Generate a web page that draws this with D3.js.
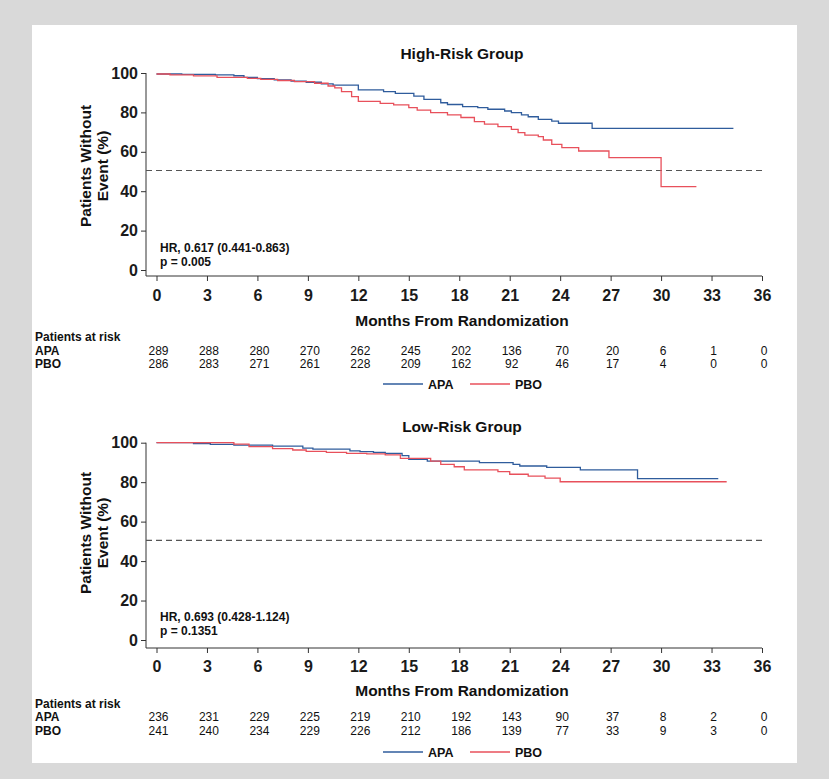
<!DOCTYPE html>
<html>
<head>
<meta charset="utf-8">
<script src="https://cdn.jsdelivr.net/npm/d3@7"></script>
<style>
  body { margin: 0; background: #d9d9d9; }
  svg { display: block; font-family: "Liberation Sans", Arial, sans-serif; }
</style>
</head>
<body>
<div class="chart"></div>
<script>
var months = [0, 3, 6, 9, 12, 15, 18, 21, 24, 27, 30, 33, 36];
var yTicks = [0, 20, 40, 60, 80, 100];
var groups = ["APA", "PBO"];
var colors = ["#2f5c9c", "#e8505b"];

// High-risk group, Kaplan-Meier steps (month, % without event)
var highApaTimes = [0, 1.5, 3.5, 4.6, 5.2, 6.0, 7.0, 8.0, 8.9, 9.8, 10.5, 12.0, 13.5, 14.2, 15.3, 15.9, 16.9, 17.3, 18.2, 19.1, 19.7, 20.7, 21.1, 21.7, 22.1, 22.7, 23.5, 23.9, 25.9, 34.3];
var highApaValues = [99.5, 99.3, 99.0, 98.6, 97.8, 97.1, 96.5, 95.9, 95.3, 94.5, 93.8, 91.4, 90.5, 89.7, 88.3, 86.6, 84.9, 84.0, 82.9, 82.4, 81.6, 80.7, 79.9, 78.7, 77.8, 76.5, 75.6, 74.5, 71.9, 71.9];
var highPboTimes = [0, 0.8, 2.2, 3.6, 5.4, 6.2, 7.2, 8.2, 9.4, 10.2, 10.6, 11.0, 11.6, 12.0, 13.3, 14.1, 15.0, 15.5, 16.3, 17.3, 18.1, 18.9, 19.5, 20.3, 21.1, 21.5, 21.9, 22.7, 23.0, 23.5, 24.1, 25.1, 26.9, 30.0, 32.1];
var highPboValues = [99.5, 99.0, 98.5, 97.8, 97.3, 96.8, 96.2, 95.6, 94.8, 93.4, 92.5, 90.5, 88.0, 85.6, 84.6, 83.8, 82.4, 81.2, 79.9, 78.7, 77.4, 75.3, 74.0, 72.8, 71.4, 69.7, 68.5, 67.7, 66.0, 63.8, 62.1, 60.4, 57.0, 42.3, 42.3];
var highApaRisk = [289, 288, 280, 270, 262, 245, 202, 136, 70, 20, 6, 1, 0];
var highPboRisk = [286, 283, 271, 261, 228, 209, 162, 92, 46, 17, 4, 0, 0];

// Low-risk group
var lowApaTimes = [0, 2.2, 3.2, 4.6, 6.9, 8.7, 9.3, 11.5, 12.1, 12.9, 13.6, 14.6, 15.0, 16.1, 19.2, 21.2, 21.6, 23.2, 25.2, 28.6, 33.4];
var lowApaValues = [100, 99.5, 99.2, 98.8, 98.3, 97.3, 96.7, 95.9, 95.5, 95.1, 94.6, 93.4, 91.6, 90.7, 89.9, 89.0, 88.2, 87.5, 86.2, 81.8, 81.8];
var lowPboTimes = [0, 4.6, 5.5, 6.9, 8.1, 8.9, 10.1, 11.3, 12.5, 13.6, 14.5, 16.3, 16.9, 17.7, 18.3, 20.3, 21.0, 22.1, 23.1, 24.0, 33.9];
var lowPboValues = [100, 99.3, 98.0, 97.0, 96.3, 95.6, 95.1, 94.6, 94.3, 93.8, 92.1, 90.7, 89.0, 87.8, 86.2, 85.3, 84.0, 83.1, 82.0, 80.2, 80.2];
var lowApaRisk = [236, 231, 229, 225, 219, 210, 192, 143, 90, 37, 8, 2, 0];
var lowPboRisk = [241, 240, 234, 229, 226, 212, 186, 139, 77, 33, 9, 3, 0];

var medianLine = 50.5;

var svg = d3.select('.chart')
  .append('svg')
    .attr('width', 829)
    .attr('height', 779);

svg.append('rect')
  .attr('x', 32).attr('y', 25)
  .attr('width', 765).attr('height', 738)
  .attr('fill', '#fff');

var xScale = d3.scaleLinear().domain([0, 36]).range([156.5, 762]);

function drawPanel(o) {
  var yScale = d3.scaleLinear().domain([0, 100]).range([o.y0, o.y100]);
  var g = svg.append('g');

  g.append('text')
    .text(o.title)
    .attr('x', 462).attr('y', o.titleY)
    .attr('text-anchor', 'middle')
    .attr('font-size', 15.5).attr('font-weight', 'bold').attr('fill', '#111');

  // axes, R style: L-shaped frame
  g.append('path')
    .attr('d', 'M146,' + yScale(100) + 'V' + o.axisY + 'H' + xScale(36))
    .attr('fill', 'none').attr('stroke', '#333').attr('stroke-width', 1);

  var yAxis = g.append('g')
    .attr('transform', 'translate(146,0)')
    .call(d3.axisLeft(yScale).tickValues(yTicks).tickSize(5).tickPadding(3));
  yAxis.select('.domain').remove();
  yAxis.selectAll('line').attr('stroke', '#333');
  yAxis.selectAll('text').attr('font-size', 16).attr('font-weight', 'bold')
    .attr('font-family', 'inherit').attr('fill', '#1a1a1a');

  var xAxis = g.append('g')
    .attr('transform', 'translate(0,' + o.axisY + ')')
    .call(d3.axisBottom(xScale).tickValues(months).tickSize(5).tickPadding(0));
  xAxis.select('.domain').remove();
  xAxis.selectAll('line').attr('stroke', '#333');
  xAxis.selectAll('text')
    .attr('y', o.tickLabelY - o.axisY).attr('dy', null)
    .attr('font-size', 16).attr('font-weight', 'bold')
    .attr('font-family', 'inherit').attr('fill', '#1a1a1a');

  g.append('text')
    .text('Months From Randomization')
    .attr('x', 462).attr('y', o.xTitleY)
    .attr('text-anchor', 'middle')
    .attr('font-size', 15.5).attr('font-weight', 'bold').attr('fill', '#111');

  var yt = g.append('text')
    .attr('transform', 'translate(0,' + o.yTitleMid + ') rotate(-90)')
    .attr('text-anchor', 'middle')
    .attr('font-size', 15.5).attr('font-weight', 'bold').attr('fill', '#111');
  yt.append('tspan').attr('x', 0).attr('y', 91).text('Patients Without');
  yt.append('tspan').attr('x', 0).attr('y', 108).text('Event (%)');

  // dashed median reference
  g.append('line')
    .attr('x1', 146).attr('x2', xScale(36))
    .attr('y1', yScale(medianLine)).attr('y2', yScale(medianLine))
    .attr('stroke', '#555').attr('stroke-width', 1.2)
    .attr('stroke-dasharray', '6,4');

  var line = d3.line()
    .x(function(d) { return xScale(d[0]); })
    .y(function(d) { return yScale(d[1]); })
    .curve(d3.curveStepAfter);

  o.curves.forEach(function(c, i) {
    g.append('path')
      .datum(d3.zip(c.times, c.values))
      .attr('d', line)
      .attr('fill', 'none')
      .attr('stroke', colors[i])
      .attr('stroke-width', 1.3);
  });

  g.append('text').text(o.hr)
    .attr('x', 160).attr('y', o.hrY)
    .attr('font-size', 12).attr('font-weight', 'bold').attr('fill', '#111');
  g.append('text').text(o.p)
    .attr('x', 160).attr('y', o.hrY + 13.5)
    .attr('font-size', 12).attr('font-weight', 'bold').attr('fill', '#111');

  // patients at risk
  g.append('text').text('Patients at risk')
    .attr('x', 35).attr('y', o.riskY)
    .attr('font-size', 12).attr('font-weight', 'bold').attr('fill', '#111');
  o.risk.forEach(function(row, i) {
    var ry = o.riskY + 13.5 * (i + 1);
    g.append('text').text(groups[i])
      .attr('x', 35).attr('y', ry)
      .attr('font-size', 12).attr('font-weight', 'bold').attr('fill', '#111');
    g.selectAll(null)
      .data(row)
      .enter().append('text')
        .text(function(d) { return d; })
        .attr('x', function(d, j) { return xScale(months[j]) + 2; })
        .attr('y', ry)
        .attr('text-anchor', 'middle')
        .attr('font-size', 12).attr('fill', '#111');
  });

  // legend
  var lx = [383, 470];
  groups.forEach(function(name, i) {
    g.append('line')
      .attr('x1', lx[i]).attr('x2', lx[i] + 40)
      .attr('y1', o.legendY).attr('y2', o.legendY)
      .attr('stroke', colors[i]).attr('stroke-width', 1.3);
    g.append('text').text(name)
      .attr('x', lx[i] + 45).attr('y', o.legendY + 4.5)
      .attr('font-size', 12.5).attr('font-weight', 'bold').attr('fill', '#111');
  });
}

drawPanel({
  title: 'High-Risk Group', titleY: 59,
  y100: 73, y0: 270, axisY: 276, tickLabelY: 301, xTitleY: 326, yTitleMid: 166,
  hr: 'HR, 0.617 (0.441-0.863)', p: 'p = 0.005', hrY: 252,
  riskY: 341, legendY: 384,
  curves: [
    { times: highApaTimes, values: highApaValues },
    { times: highPboTimes, values: highPboValues }
  ],
  risk: [highApaRisk, highPboRisk]
});

drawPanel({
  title: 'Low-Risk Group', titleY: 432,
  y100: 442.7, y0: 640, axisY: 648, tickLabelY: 672, xTitleY: 696, yTitleMid: 533,
  hr: 'HR, 0.693 (0.428-1.124)', p: 'p = 0.1351', hrY: 621,
  riskY: 707.5, legendY: 752,
  curves: [
    { times: lowApaTimes, values: lowApaValues },
    { times: lowPboTimes, values: lowPboValues }
  ],
  risk: [lowApaRisk, lowPboRisk]
});
</script>
</body>
</html>
